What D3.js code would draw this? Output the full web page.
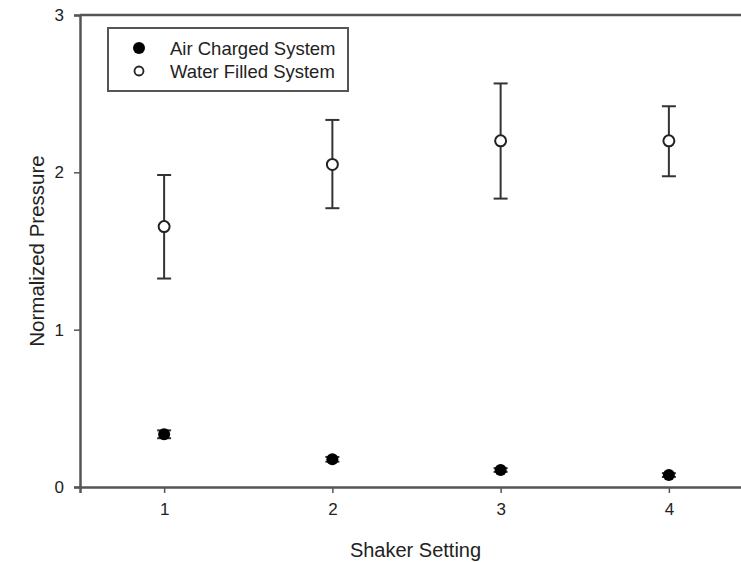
<!DOCTYPE html>
<html>
<head>
<meta charset="utf-8">
<script src="https://cdn.jsdelivr.net/npm/d3@7"></script>
<style>
  body { margin: 0; background: #fff; }
  text { font-family: "Liberation Sans", Arial, sans-serif; fill: #222; }
</style>
</head>
<body>
<svg id="chart" width="741" height="562"></svg>
<script>
// shaker settings on the x axis
const settings = [1, 2, 3, 4];
const xTicks = [1, 2, 3, 4];
const yTicks = [0, 1, 2, 3];

// air charged system: mean and error (half-width)
const airMean = [0.335, 0.176, 0.108, 0.076];
const airErr = [0.025, 0.015, 0.012, 0.012];

// water filled system: mean, lower and upper whisker
const waterMean = [1.655, 2.05, 2.2, 2.2];
const waterLow = [1.325, 1.772, 1.833, 1.975];
const waterHigh = [1.983, 2.333, 2.565, 2.42];

const seriesNames = ["Air Charged System", "Water Filled System"];

const margin = { top: 15, left: 80 };
const svg = d3.select("#chart");

const x = d3.scaleLinear().domain([0.5, 4.5]).range([80, 753]);
const y = d3.scaleLinear().domain([0, 3]).range([487, 15]);

const axisColor = "#555";

// axes
const gx = svg.append("g")
  .attr("transform", `translate(0,${y(0)})`)
  .call(d3.axisBottom(x).tickValues(xTicks).tickFormat(d3.format("d")).tickSize(6).tickPadding(10));
const gy = svg.append("g")
  .attr("transform", `translate(${x(0.5)},0)`)
  .call(d3.axisLeft(y).tickValues(yTicks).tickFormat(d3.format("d")).tickSize(6).tickPadding(10));

[gx, gy].forEach((g) => {
  g.select(".domain").attr("stroke", axisColor).attr("stroke-width", 2.5);
  g.selectAll(".tick line").attr("stroke", axisColor).attr("stroke-width", 1.5);
  g.selectAll(".tick text")
    .style("font-family", "'Liberation Sans', Arial, sans-serif")
    .style("font-size", "17px")
    .attr("fill", "#222");
});

// top frame line
svg.append("line")
  .attr("x1", x(0.5)).attr("x2", x(4.5))
  .attr("y1", y(3)).attr("y2", y(3))
  .attr("stroke", axisColor).attr("stroke-width", 2.5);

// axis titles
svg.append("text")
  .attr("x", (x(0.5) + 741) / 2 + 5)
  .attr("y", 557)
  .attr("text-anchor", "middle")
  .style("font-size", "20px")
  .text("Shaker Setting");

svg.append("text")
  .attr("transform", `translate(44,${y(1.5)}) rotate(-90)`)
  .attr("text-anchor", "middle")
  .style("font-size", "20.5px")
  .text("Normalized Pressure");

const barColor = "#333";
const capW = 7;

function errorBars(lo, hi) {
  const g = svg.append("g");
  settings.forEach((s, i) => {
    const cx = x(s);
    g.append("line")
      .attr("x1", cx).attr("x2", cx)
      .attr("y1", y(lo[i])).attr("y2", y(hi[i]))
      .attr("stroke", barColor).attr("stroke-width", 2);
    [lo[i], hi[i]].forEach((v) => {
      g.append("line")
        .attr("x1", cx - capW).attr("x2", cx + capW)
        .attr("y1", y(v)).attr("y2", y(v))
        .attr("stroke", barColor).attr("stroke-width", 2);
    });
  });
}

// water filled system
errorBars(waterLow, waterHigh);
svg.selectAll("circle.water")
  .data(waterMean)
  .enter()
  .append("circle")
  .attr("class", "water")
  .attr("cx", (d, i) => x(settings[i]))
  .attr("cy", (d) => y(d))
  .attr("r", 5.5)
  .attr("fill", "#fff")
  .attr("stroke", "#222")
  .attr("stroke-width", 2);

// air charged system
errorBars(airMean.map((d, i) => d - airErr[i]), airMean.map((d, i) => d + airErr[i]));
svg.selectAll("circle.air")
  .data(airMean)
  .enter()
  .append("circle")
  .attr("class", "air")
  .attr("cx", (d, i) => x(settings[i]))
  .attr("cy", (d) => y(d))
  .attr("r", 6)
  .attr("fill", "#000");

// legend
const legend = svg.append("g");
legend.append("rect")
  .attr("x", 108).attr("y", 28)
  .attr("width", 240).attr("height", 63)
  .attr("fill", "#fff")
  .attr("stroke", axisColor)
  .attr("stroke-width", 2);

seriesNames.forEach((name, i) => {
  const ly = 48 + i * 23;
  legend.append("circle")
    .attr("cx", 139).attr("cy", ly)
    .attr("r", i === 0 ? 6 : 4.5)
    .attr("fill", i === 0 ? "#000" : "#fff")
    .attr("stroke", "#222")
    .attr("stroke-width", i === 0 ? 0 : 1.8);
  legend.append("text")
    .attr("x", 170).attr("y", ly)
    .attr("dy", "0.36em")
    .style("font-size", "18.5px")
    .text(name);
});
</script>
</body>
</html>
